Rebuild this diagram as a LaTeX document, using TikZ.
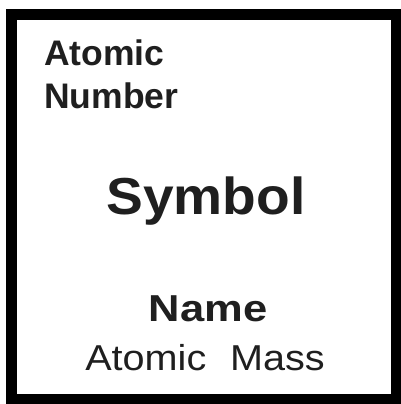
\documentclass[tikz,border=0pt]{standalone}
\usepackage{fontspec}
\setmainfont{Liberation Sans}
\begin{document}
\begin{tikzpicture}[x=1pt,y=-1pt,
  lbl/.style={inner sep=0pt,text=black!88},
  bigb/.style={lbl,font=\bfseries\fontsize{52}{60}\selectfont},
  medb/.style={lbl,font=\bfseries\fontsize{37.5}{44}\selectfont},
  smallb/.style={lbl,font=\bfseries\fontsize{35.5}{43}\selectfont},
  reg/.style={lbl,font=\fontsize{36}{40}\selectfont}]
\useasboundingbox (0,0) rectangle (400,404);
\fill[white] (0,0) rectangle (400,404);
\draw[line width=11pt] (11.5,14.5) rectangle (396,399);
\node[smallb,anchor=base west,align=left] (num) at (44,108) {Atomic\\Number};
\node[bigb,anchor=base] (sym) at (206,214) {\scalebox{1.06}[1]{Symbol}};
\node[medb,anchor=base] (name) at (208,321) {\scalebox{1.16}[1]{Name}};
\node[reg,anchor=base] (mass) at (205,370) {\scalebox{1.1}[1]{Atomic\hspace{0.6em}Mass}};
\end{tikzpicture}
\end{document}
